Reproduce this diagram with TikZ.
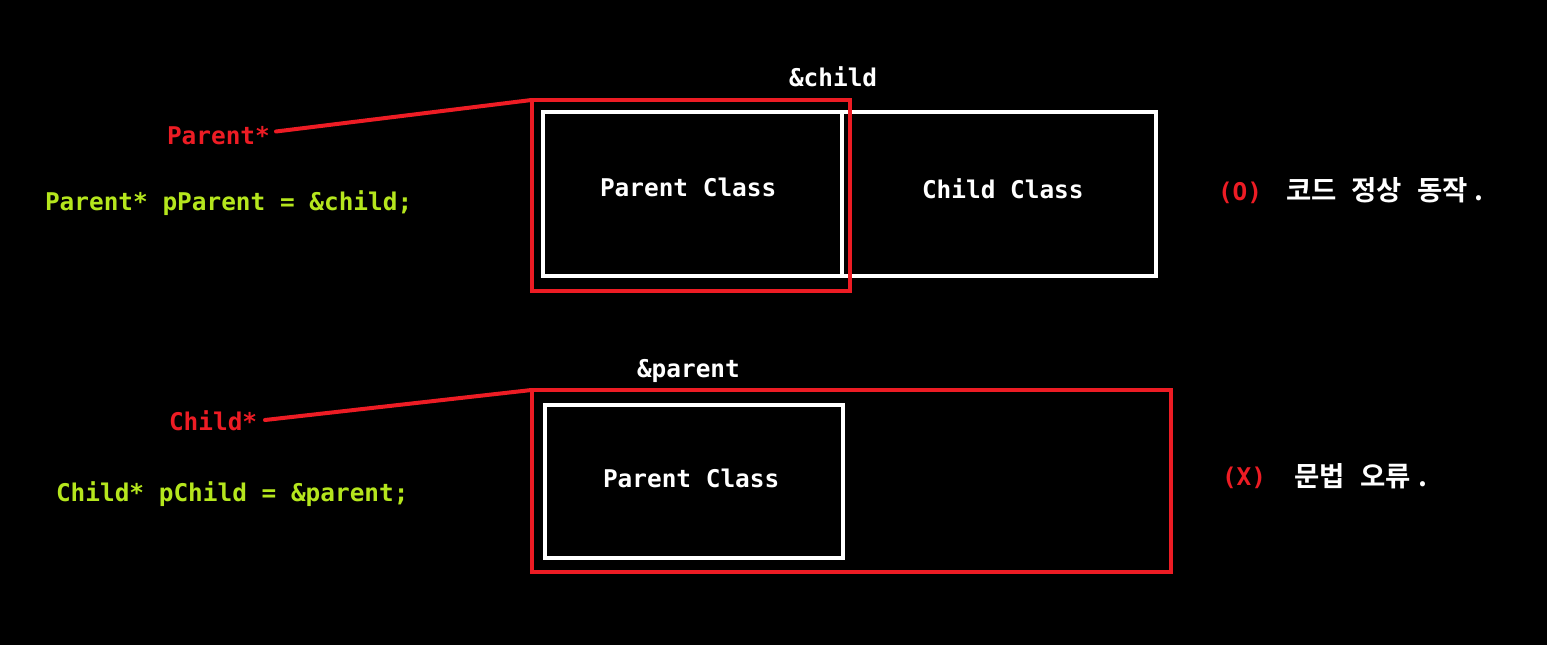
\documentclass[tikz,border=0pt]{standalone}
\usepackage{fontspec}
\newfontfamily\mono{DejaVu Sans Mono}
\newfontfamily\kr{Noto Sans CJK KR}[BoldFont={Noto Sans CJK KR Bold}]
\definecolor{rd}{HTML}{ED1C24}
\definecolor{gr}{HTML}{B5E61D}
\tikzset{
  txt/.style={inner sep=0pt, outer sep=0pt, anchor=base west, font=\mono\bfseries\fontsize{24.4}{28}\selectfont},
  wbox/.style={draw=white, line width=4pt, inner sep=0pt, outer sep=0pt},
  rbox/.style={draw=rd, line width=4pt, inner sep=0pt, outer sep=0pt},
  rline/.style={draw=rd, line width=4pt, line cap=round},
  krtxt/.style={inner sep=0pt, outer sep=0pt, anchor=base west, text=white, font=\kr\bfseries\fontsize{27.5}{30}\selectfont}
}
\begin{document}
\begin{tikzpicture}[x=1pt,y=-1pt]
\fill[black] (0,0) rectangle (1547,645);
\useasboundingbox (0,0) rectangle (1547,645);
% top
\node[wbox, minimum width=299pt, minimum height=164pt] (pb1) at (692.5,194) {};
\node[wbox, minimum width=314pt, minimum height=164pt] (cb1) at (999,194) {};
\node[rbox, minimum width=318.5pt, minimum height=190.5pt] (rb1) at (690.75,195.25) {};
\node[txt, text=white] (pc1) at (600,196.5) {Parent Class};
\node[txt, text=white] (cc1) at (922,198) {Child Class};
\node[txt, text=white] (ach) at (789,86.5) {\&child};
\node[txt, text=rd] (lp) at (167,144) {Parent*};
\node[txt, text=gr] (cp) at (45,210) {Parent* pParent = \&child;};
\node[txt, text=rd] (ok) at (1218,200) {(O)};
\node[krtxt] (okt) at (1286,200.5) {\spaceskip=15pt 코드 정상 동작\kern7pt.};
\coordinate (lpe) at (276,131.5);
\draw[rline] (lpe) -- (rb1.north west);
% bottom
\node[wbox, minimum width=298pt, minimum height=153pt] (pb2) at (694,481) {};
\node[rbox, minimum width=639.5pt, minimum height=182pt] (rb2) at (851.25,481) {};
\node[txt, text=white] (pc2) at (603,487.5) {Parent Class};
\node[txt, text=white] (apa) at (637,377.5) {\&parent};
\node[txt, text=rd] (lc) at (169,430) {Child*};
\node[txt, text=gr] (cc) at (56,501.5) {Child* pChild = \&parent;};
\node[txt, text=rd] (ng) at (1222,485) {(X)};
\node[krtxt] (ngt) at (1294,486.5) {\spaceskip=16pt 문법 오류\kern7pt.};
\coordinate (lce) at (265,420);
\draw[rline] (lce) -- (rb2.north west);
\end{tikzpicture}
\end{document}
